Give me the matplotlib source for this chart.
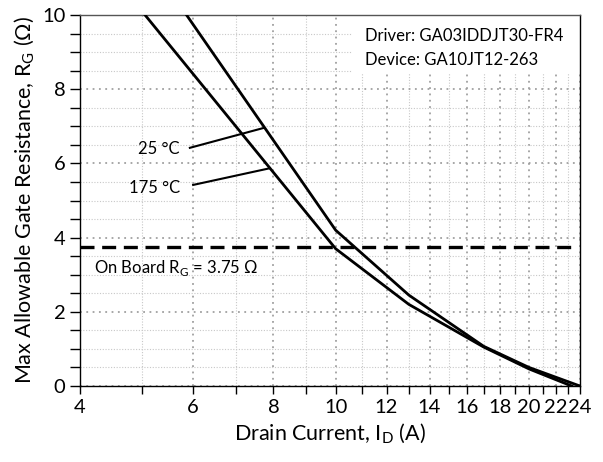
import numpy as np
import matplotlib.pyplot as plt
from matplotlib.patches import Rectangle
from matplotlib.ticker import FixedLocator, MultipleLocator, NullFormatter

plt.rcParams['font.family'] = ['Lato', 'DejaVu Sans']
plt.rcParams['mathtext.fontset'] = 'custom'
plt.rcParams['mathtext.rm'] = 'Lato'

# curve data (drain current A, max gate resistance ohm)
id_25 = [5.86, 10.0, 13.0, 17.0, 20.0, 24.0]
rg_25 = [10.0, 4.2, 2.45, 1.07, 0.5, 0.0]
id_175 = [5.05, 10.0, 13.0, 17.0, 20.0, 23.3]
rg_175 = [10.0, 3.7, 2.2, 1.05, 0.46, 0.0]

rg_board = 3.75
xticks = [4, 6, 8, 10, 12, 14, 16, 18, 20, 22, 24]
xminor = [5, 7, 9, 11, 13, 15, 17, 19, 21, 23]

fig = plt.figure(figsize=(6.03, 4.62), dpi=100)
ax = fig.add_axes([0.1327, 0.1645, 0.829, 0.803])

ax.plot(id_25, rg_25, color='black', lw=2.0, zorder=3)
ax.plot(id_175, rg_175, color='black', lw=2.0, zorder=3)
ax.plot([4, 23.5], [rg_board, rg_board], color='black', lw=2.4,
        dashes=(4.2, 2.3), zorder=3)

# leader lines to the curves
ax.plot([5.93, 7.74], [6.42, 6.96], color='black', lw=1.5)
ax.plot([6.0, 7.9], [5.42, 5.87], color='black', lw=1.5)
ax.text(5.72, 6.39, '25 °C', ha='right', va='center', fontsize=12)
ax.text(5.72, 5.34, '175 °C', ha='right', va='center', fontsize=12)

ax.text(4.21, 3.18, r'On Board R$_\mathregular{G}$ = 3.75 Ω', ha='left',
        va='center', fontsize=12)

# white box behind the driver / device note
ax.add_patch(Rectangle((0.544, 0.84), 0.456, 0.16, transform=ax.transAxes,
                       facecolor='white', edgecolor='none', zorder=2))
ax.text(11.1, 9.43, 'Driver: GA03IDDJT30-FR4', ha='left', va='center',
        fontsize=12, zorder=4)
ax.text(11.1, 8.8, 'Device: GA10JT12-263', ha='left', va='center',
        fontsize=12, zorder=4)

ax.set_xscale('log')
ax.set_xlim(4, 24)
ax.set_ylim(0, 10)
ax.xaxis.set_major_locator(FixedLocator(xticks))
ax.xaxis.set_minor_locator(FixedLocator(xminor))
ax.set_xticklabels([str(v) for v in xticks])
ax.xaxis.set_minor_formatter(NullFormatter())
ax.yaxis.set_major_locator(MultipleLocator(2))
ax.yaxis.set_minor_locator(MultipleLocator(0.5))

ax.grid(which='major', color='#a0a0a0', ls=(0, (1, 2.5)), lw=1.3)
ax.grid(which='minor', color='#c8c8c8', ls=(0, (1, 1.5)), lw=0.8)
ax.set_axisbelow(True)

ax.tick_params(which='both', direction='out', labelsize=14.5, length=6, width=1)
ax.tick_params(axis='y', which='both', length=7)
for s in ax.spines.values():
    s.set_linewidth(1.0)
ax.spines['top'].set_color('#555555')

ax.set_xlabel('Drain Current, I$_\\mathregular{D}$ (A)', fontsize=15.5)
ax.set_ylabel('Max Allowable Gate Resistance, R$_\\mathregular{G}$ (Ω)', fontsize=15.5)

fig.savefig('out.png', dpi=100)
